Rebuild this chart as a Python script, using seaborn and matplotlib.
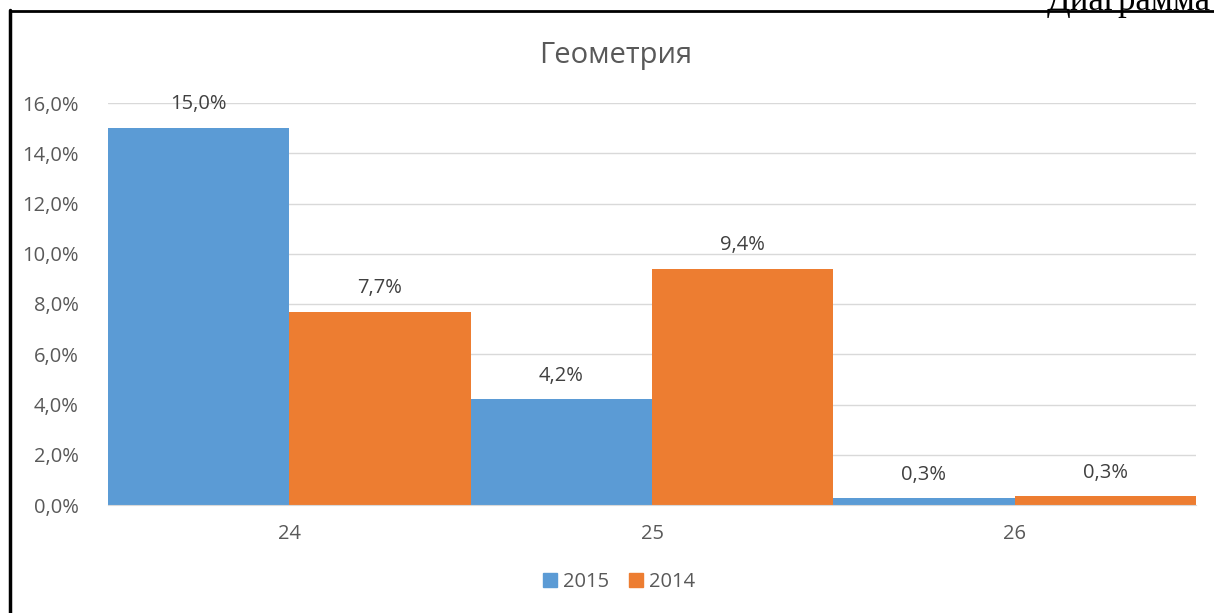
import matplotlib
matplotlib.use("Agg")
import matplotlib.pyplot as plt
import numpy as np
import pandas as pd
import seaborn as sns
from matplotlib.lines import Line2D

# Data
categories = ["24", "25", "26"]
years = ["2015", "2014"]
values_2015 = [15.0, 4.2, 0.26]
values_2014 = [7.7, 9.4, 0.34]
y_ticks = [0, 2, 4, 6, 8, 10, 12, 14, 16]

colors = {"2015": "#5B9BD5", "2014": "#ED7D31"}
text_color = "#595959"

df = pd.DataFrame({
    "group": categories * 2,
    "year": [years[0]] * 3 + [years[1]] * 3,
    "value": values_2015 + values_2014,
})

sns.set_style("white")
plt.rcParams["font.family"] = ["Open Sans", "DejaVu Sans"]

fig = plt.figure(figsize=(12.14, 6.13), dpi=100)
ax = fig.add_axes([108 / 1214, 1 - 505 / 613, (1196 - 108) / 1214, (505 - 103) / 613])

sns.barplot(data=df, x="group", y="value", hue="year", order=categories,
            hue_order=years, palette=colors, width=1.0, saturation=1,
            linewidth=0, ax=ax, legend=False)

ax.set_xlim(-0.5, 2.5)
ax.set_ylim(0, 16)
ax.set_yticks(y_ticks)
ax.set_yticklabels([f"{t:.1f}%".replace(".", ",") for t in y_ticks])
ax.grid(axis="y", color="#D9D9D9", linewidth=1)
ax.set_axisbelow(True)
for s in ["left", "right", "top"]:
    ax.spines[s].set_visible(False)
ax.spines["bottom"].set_color("#D9D9D9")
ax.tick_params(axis="both", length=0, labelsize=14.5, colors=text_color)
ax.tick_params(axis="y", pad=21)
ax.tick_params(axis="x", pad=14)
ax.set_xlabel("")
ax.set_ylabel("")

# value labels
for cont in ax.containers:
    labels = [f"{b.get_height():.1f}%".replace(".", ",") for b in cont]
    ax.bar_label(cont, labels=labels, padding=10, fontsize=14.5, color="#404040")

fig.text(0.507, 1 - 55 / 613, "Геометрия", ha="center", va="center",
         fontsize=21, color=text_color)

handles = [plt.Rectangle((0, 0), 1, 1, color=colors[y]) for y in years]
fig.legend(handles, years, loc="center", bbox_to_anchor=(0.51, 1 - 582 / 613),
           ncol=2, frameon=False, handlelength=0.7, handleheight=0.7,
           handletextpad=0.3, columnspacing=1.0, fontsize=14.5,
           labelcolor=text_color)

# page border and clipped caption
fig.add_artist(Line2D([10 / 1214, 10 / 1214], [0, 1 - 10 / 613], color="black",
                      linewidth=2.5, transform=fig.transFigure))
fig.add_artist(Line2D([10 / 1214, 1], [1 - 11 / 613, 1 - 11 / 613], color="black",
                      linewidth=2, transform=fig.transFigure))
fig.text(1047 / 1214, 1 - 10 / 613, "Диаграмма", ha="left", va="baseline",
         fontsize=25, family="Liberation Serif", color="black")

fig.savefig("out.png", dpi=100, facecolor="white")
